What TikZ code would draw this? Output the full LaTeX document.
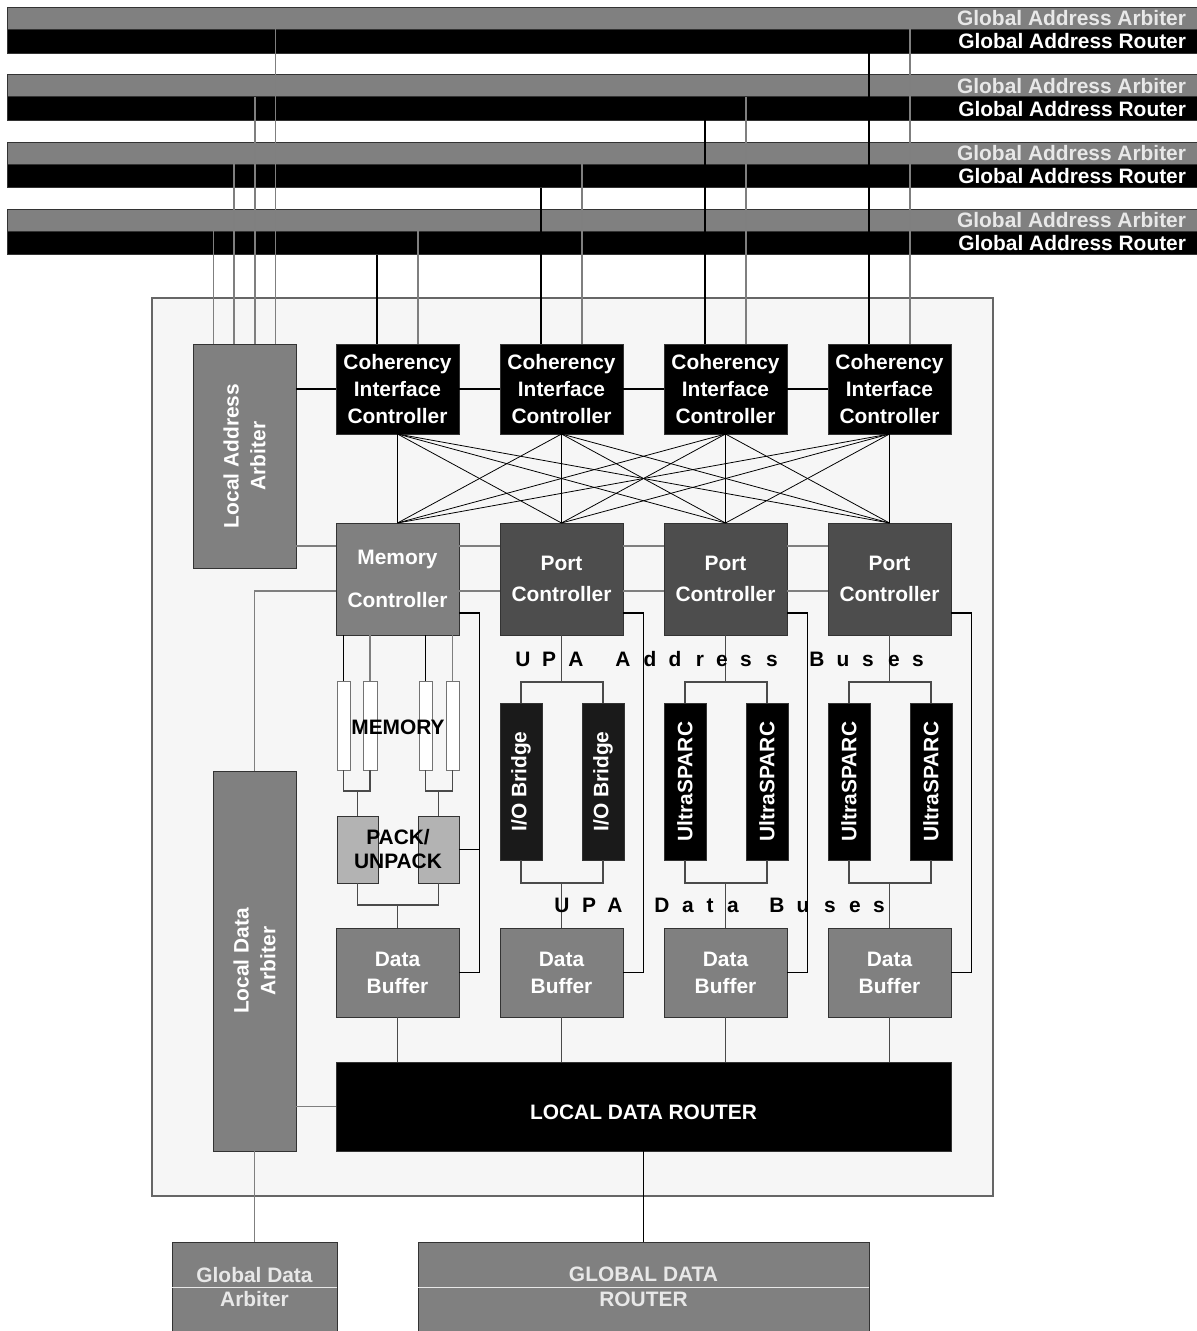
\documentclass[tikz,border=0pt]{standalone}
\usepackage{fontspec}
\setmainfont{Liberation Sans}
\usepackage{xcolor}
\usepackage{tikz}
\usetikzlibrary{calc,positioning}

\definecolor{barGray}{HTML}{808080}
\definecolor{boxGray}{HTML}{808080}
\definecolor{portGray}{HTML}{4D4D4D}
\definecolor{ioGray}{HTML}{1A1A1A}
\definecolor{packGray}{HTML}{B3B3B3}
\definecolor{paleBg}{HTML}{F6F6F6}
\definecolor{wireGray}{HTML}{7F7F7F}
\definecolor{wireDark}{HTML}{4A4A4A}
\definecolor{paleText}{HTML}{E8E8E8}

\tikzset{
  sz/.style 2 args={minimum width=#1*0.02cm,minimum height=#2*0.02cm},
  blk/.style={draw=black!80,line width=0.5pt},
  arbbar/.style={blk,fill=barGray,sz={1192.5}{22}},
  roubar/.style={blk,fill=black,sz={1192.5}{23.5}},
  bustext/.style={anchor=east},
  cicbox/.style={blk,fill=black,text=white,sz={123}{90}},
  ctlbox/.style={blk,text=white,sz={123}{112}},
  bufbox/.style={blk,fill=boxGray,text=white,sz={123}{89}},
  membox/.style={draw=black!55,line width=0.5pt,fill=white,sz={13}{89}},
  packbox/.style={blk,fill=packGray,sz={41}{67}},
  cpubox/.style={blk,sz={42}{157}},
  lbl/.style={text=white},
  wireBlack/.style={black,line width=0.6pt},
  wireGrey/.style={wireGray,line width=0.6pt},
  wireDk/.style={wireDark,line width=0.6pt},
  xbar/.style={black,line width=0.45pt}
}

\begin{document}
\begin{tikzpicture}[x=0.02cm,y=-0.02cm,
  every node/.style={inner sep=0pt,outer sep=0pt,align=center,
    font=\bfseries\fontsize{11.9}{15.3}\selectfont}]
\useasboundingbox (0,0) rectangle (1196,1331);

% global address buses
\foreach \k in {1,...,4}{
  \node[arbbar] (arb\k) at (603.75,{18.5+67.3*(\k-1)}) {};
  \node[roubar] (rou\k) at (603.75,{41.25+67.3*(\k-1)}) {};
  \node[bustext,text=paleText] (arbt\k) at (1186,{18.5+67.3*(\k-1)}) {Global Address Arbiter};
  \node[bustext,text=white] (rout\k) at (1186,{41.25+67.3*(\k-1)}) {Global Address Router};
}

% board
\node[draw=black!60,line width=0.6pt,fill=paleBg,sz={841}{898}] (board) at (572.5,747) {};

\node[blk,fill=boxGray,sz={103}{224}] (laa) at (244.5,456) {};
\node[lbl,rotate=90] (laatxt) at (laa) {Local Address\\Arbiter};
\node[blk,fill=boxGray,sz={83}{380}] (lda) at (254.5,961) {};
\node[lbl,rotate=90] (ldatxt) at (lda) {Local Data\\Arbiter};

\foreach \i in {1,...,4}{
  \node[cicbox] (cic\i) at ({397.5+164*(\i-1)},389) {Coherency\\Interface\\Controller};
  \node[bufbox] (buf\i) at ({397.5+164*(\i-1)},972.5) {Data\\Buffer};
}
\node[ctlbox,fill=boxGray] (ctl1) at (397.5,579) {Memory\\[9pt]Controller};
\foreach \i in {2,3,4}
  \node[ctlbox,fill=portGray] (ctl\i) at ({397.5+164*(\i-1)},579) {Port\\[2.5pt]Controller};

% memory and pack/unpack
\node[membox] (mem1) at (343.5,725.5) {};
\node[membox,sz={14}{89}] (mem2) at (370,725.5) {};
\node[membox] (mem3) at (425.5,725.5) {};
\node[membox] (mem4) at (452.5,725.5) {};
\node[packbox] (pack1) at (357.5,849.5) {};
\node[packbox] (pack2) at (438.5,849.5) {};

% upa devices
\node[cpubox,fill=ioGray] (io1) at (521,781.5) {};
\node[cpubox,fill=ioGray] (io2) at (603,781.5) {};
\node[cpubox,fill=black] (us1) at (685,781.5) {};
\node[cpubox,fill=black] (us2) at (767,781.5) {};
\node[cpubox,fill=black] (us3) at (849,781.5) {};
\node[cpubox,fill=black] (us4) at (931,781.5) {};
\foreach \d/\t in {io1/I\slash O Bridge,io2/I\slash O Bridge,us1/UltraSPARC,us2/UltraSPARC,us3/UltraSPARC,us4/UltraSPARC}
  \node[lbl,rotate=90] (\d txt) at (\d) {\t};

\node[blk,fill=black,sz={615}{89}] (ldr) at (643.5,1106.5) {};
\node[lbl] (ldrtxt) at (643.5,1112) {LOCAL DATA ROUTER};

\node[blk,fill=boxGray,text=paleText,sz={165}{90}] (gda) at (254.5,1287) {Global Data\\[-1.2pt]Arbiter};
\node[blk,fill=boxGray,text=paleText,sz={451}{90}] (gdr) at (643.5,1287) {GLOBAL DATA\\[-1.2pt]ROUTER};

% address bus taps
\foreach \k/\dx in {1/31,2/10.5,3/-10.5,4/-31}
  \draw[wireGrey] ($(laa.north)+(\dx,0)$) -- ($(arb\k.south -| laa.north)+(\dx,0)$);
\foreach \i/\r in {1/4,2/3,3/2,4/1}{
  \draw[wireBlack] ($(cic\i.north)+(-20.5,0)$) -- ($(rou\r.south -| cic\i.north)+(-20.5,0)$);
  \draw[wireGrey] ($(cic\i.north)+(20.5,0)$) -- ($(arb\r.south -| cic\i.north)+(20.5,0)$);
}

% coherency row and crossbar
\draw[wireBlack] (laa.east |- cic1.west) -- (cic1.west)
  (cic1.east) -- (cic2.west) (cic2.east) -- (cic3.west) (cic3.east) -- (cic4.west);
\foreach \i in {1,...,4}
  \foreach \j in {1,...,4}
    \draw[xbar] (cic\i.south) -- (ctl\j.north);

% arbitration lines
\draw[wireGrey] (laa.east |- 0,546) -- (ctl1.west |- 0,546);
\draw[wireGrey] (lda.north) |- (ctl1.west |- 0,591);
\foreach \a/\b in {1/2,2/3,3/4}
  \draw[wireGrey] (ctl\a.east |- 0,546) -- (ctl\b.west |- 0,546)
    (ctl\a.east |- 0,591) -- (ctl\b.west |- 0,591);

% controller to data buffer
\foreach \i in {1,...,4}
  \draw[wireBlack] (ctl\i.east |- 0,613) -- ++(20.5,0) |- (buf\i.east);
\draw[wireBlack] (pack2.east) -- ++(21,0);

% memory paths
\draw[wireBlack] (mem1.north) -- (mem1.north |- ctl1.south)
  (mem3.north) -- (mem3.north |- ctl1.south);
\draw[wireGrey] (mem2.north) -- (mem2.north |- ctl1.south)
  (mem4.north) -- (mem4.north |- ctl1.south);
\draw[wireDk] (mem1.south) -- ++(0,21) coordinate (m12) -| (mem2.south);
\draw[wireDk] (mem3.south) -- ++(0,21) coordinate (m34) -| (mem4.south);
\draw[wireDk] (pack1.north) -- (pack1.north |- m12);
\draw[wireDk] (pack2.north) -- (pack2.north |- m34);
\draw[wireDk] (pack1.south) -- ++(0,22) coordinate (p12) -| (pack2.south);
\draw[wireDk] (buf1.north) -- (buf1.north |- p12);

% upa buses
\foreach \c/\l/\r in {2/io1/io2,3/us1/us2,4/us3/us4}{
  \draw[wireDk] (ctl\c.south) -- ++(0,47) coordinate (ua\c);
  \draw[wireDk] (\l.north) |- (ua\c) -| (\r.north);
  \draw[wireDk] (buf\c.north) -- ++(0,-45) coordinate (da\c);
  \draw[wireDk] (\l.south) |- (da\c) -| (\r.south);
}

% data routing
\foreach \i in {1,...,4}
  \draw[wireDk] (buf\i.south) -- (buf\i.south |- ldr.north);
\draw[wireGrey] (lda.east |- ldr.west) -- (ldr.west);
\draw[wireBlack] (ldr.south) -- (gdr.north);
\draw[wireGrey] (lda.south) -- (gda.north);
\draw[paleText,line width=0.8pt] (gda.west |- 0,1287.5) -- (gda.east |- 0,1287.5)
  (gdr.west |- 0,1287.5) -- (gdr.east |- 0,1287.5);

% labels
\node (memtxt) at (398,727) {MEMORY};
\node (packtxt) at (398,849) {PACK/\\[-2pt]UNPACK};
\foreach \ch/\xx [count=\n] in {U/523,P/549,A/576,A/623,d/650,d/675,r/700,e/722,s/746,s/772,B/817,u/843,s/868,e/894,s/918}
  \node[anchor=base] (uaddr\n) at (\xx,666) {\ch};
\foreach \ch/\xx [count=\n] in {U/562,P/589,A/615,D/662,a/688,t/710,a/733,B/777,u/803,s/830,e/855,s/879}
  \node[anchor=base] (udata\n) at (\xx,912) {\ch};
\end{tikzpicture}
\end{document}
